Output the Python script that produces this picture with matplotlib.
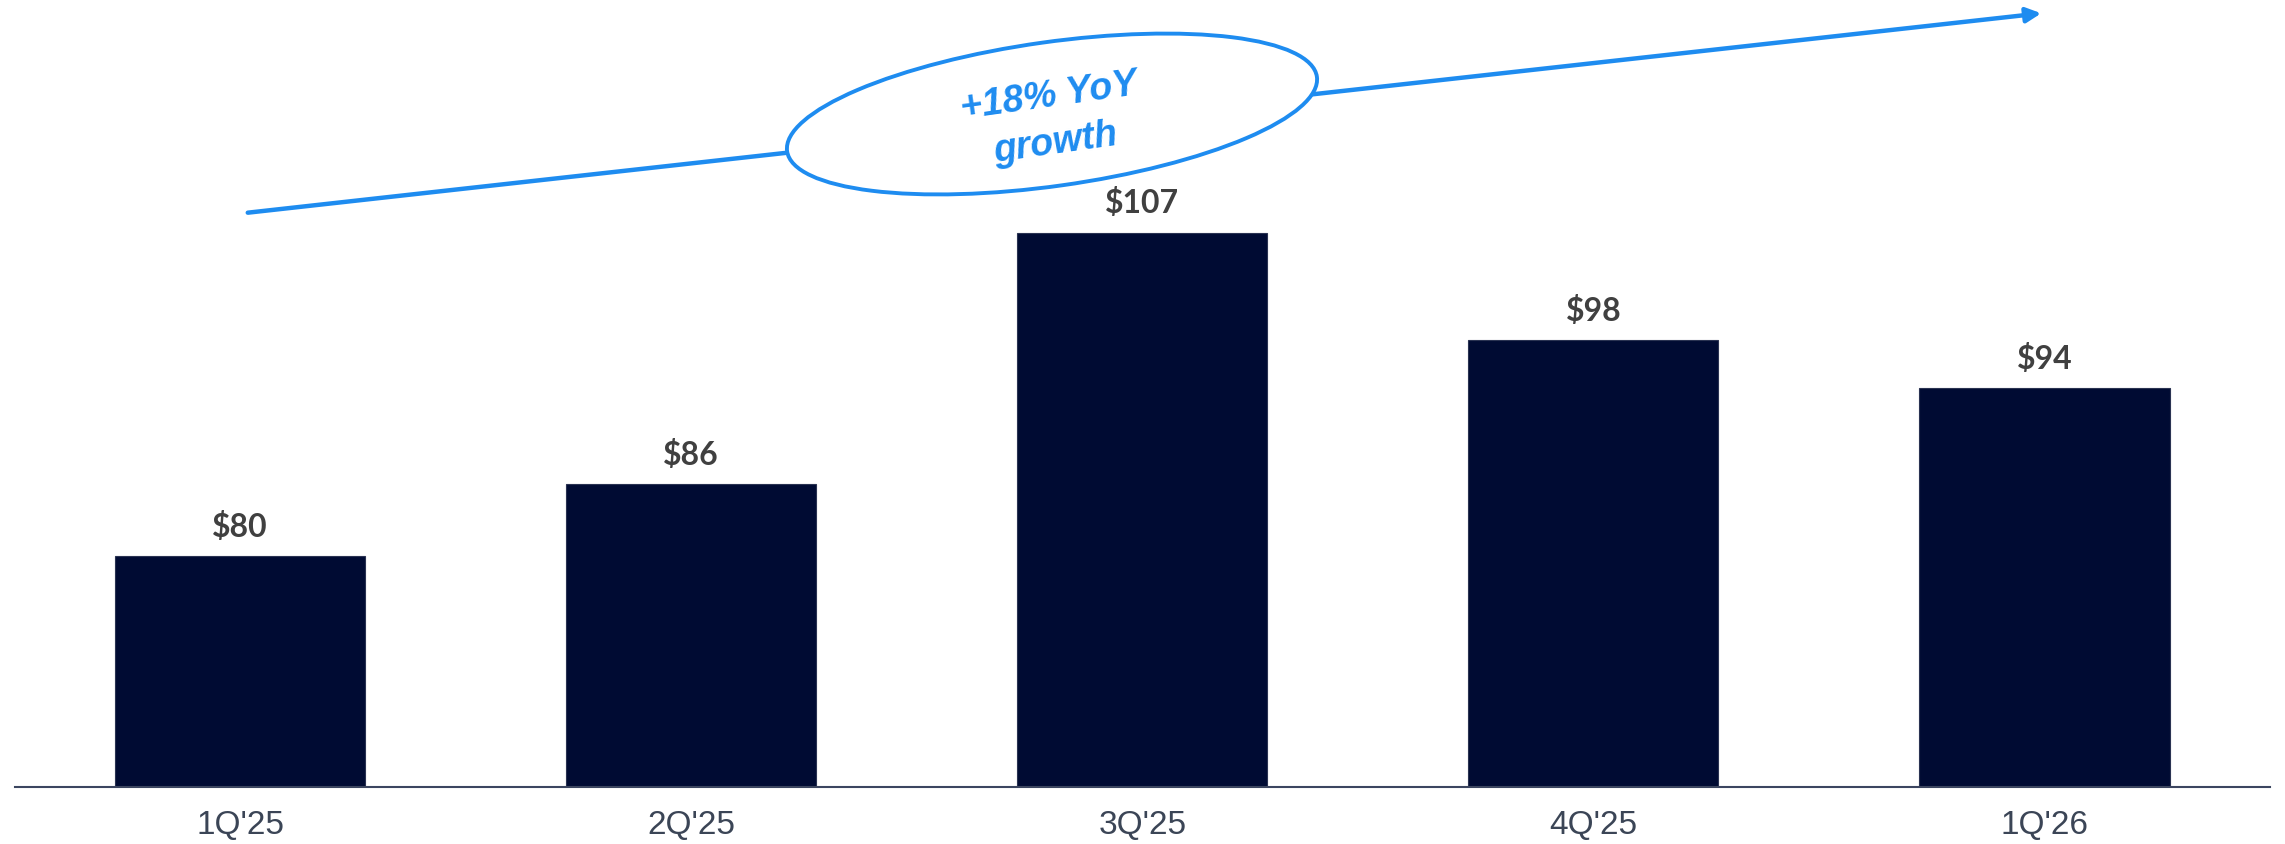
import numpy as np
import matplotlib
matplotlib.use("Agg")
from matplotlib import pyplot as plt
from matplotlib.patches import Ellipse, FancyArrowPatch

# Quarterly values
quarters = ["1Q'25", "2Q'25", "3Q'25", "4Q'25", "1Q'26"]
values = [80, 86, 107, 98, 94]
labels = ["$80", "$86", "$107", "$98", "$94"]
growth_text = "+18% YoY\ngrowth"

bar_color = "#000b33"
blue = "#1e8cf0"

fig = plt.figure(figsize=(22.85, 8.45), dpi=100)
ax = fig.add_axes([0.0064, 0.0675, 0.987, 0.9325])

x = np.arange(len(quarters))
ax.bar(x, values, width=0.555, color=bar_color, edgecolor="#2a3352", linewidth=0.8, zorder=2)

# value labels above bars
for xi, v, lab in zip(x, values, labels):
    ax.annotate(lab, (xi, v), xytext=(0, 11), textcoords="offset points",
                ha="center", va="bottom", fontsize=23, fontweight="bold",
                color="#404040", family="Lato")

ax.set_xlim(-0.5, 4.5)
ax.set_ylim(60.7, 126.5)
ax.set_xticks(x)
ax.set_xticklabels(quarters, fontsize=24, color="#3b4556", family="Liberation Sans")
ax.tick_params(axis="x", length=0, pad=16)
ax.set_yticks([])
for s in ["top", "right", "left"]:
    ax.spines[s].set_visible(False)
ax.spines["bottom"].set_color("#3c4660")
ax.spines["bottom"].set_linewidth(1.5)

# growth arrow with ellipse callout (figure inches)
tr = fig.dpi_scale_trans
arrow = FancyArrowPatch((2.45, 6.31), (20.44, 8.31), transform=tr,
                        arrowstyle="-|>", mutation_scale=22, color=blue,
                        linewidth=3.2, clip_on=False, zorder=5)
ax.add_artist(arrow)
ell = Ellipse((10.52, 7.30), 5.35, 1.44, angle=8.0, transform=tr,
              facecolor="white", edgecolor=blue, linewidth=2.8, clip_on=False, zorder=6)
ax.add_artist(ell)
ax.text(10.52, 7.25, growth_text, transform=tr, rotation=8, rotation_mode="anchor",
        ha="center", va="center", fontsize=27, fontweight="bold", fontstyle="italic",
        color=blue, family="Liberation Sans", linespacing=1.4, zorder=7)

plt.savefig("out.png", dpi=100)
